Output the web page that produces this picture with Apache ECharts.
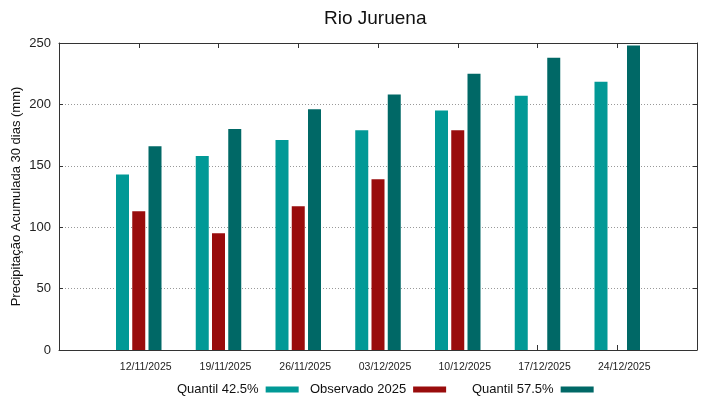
<!DOCTYPE html>
<html>
<head>
<meta charset="utf-8">
<script src="https://cdn.jsdelivr.net/npm/echarts@6/dist/echarts.min.js"></script>
<style>
  html, body { margin: 0; padding: 0; background: #fff; }
  #chart-container { width: 719px; height: 399px; }
</style>
</head>
<body>
<div id="chart-container"></div>
<script>
// empty slots at both ends give the gnuplot-like padding
var datas = ['', '12/11/2025', '19/11/2025', '26/11/2025', '03/12/2025', '10/12/2025', '17/12/2025', '24/12/2025', ''];
var quantil425 = [null, 143, 158, 171, 179, 195, 207, 218.5, null];
var observado = [null, 113, 95, 117, 139, 179, null, null, null];
var quantil575 = [null, 166, 180, 196, 208, 225, 238, 248, null];
var yTicks = [0, 50, 100, 150, 200, 250];

var chart = echarts.init(document.getElementById('chart-container'));
var fontName = 'Liberation Sans';
var tickOn = function (i) { return i > 0 && i < datas.length - 1; };

// gnuplot puts the keys at fixed columns, so one legend per key
function legendAt(name, left) {
    return {
        left: left,
        top: 378,
        align: 'right',
        itemWidth: 33,
        itemHeight: 6,
        icon: 'rect',
        textStyle: { fontSize: 13, color: '#111', fontFamily: fontName, padding: [0, 2, 0, 0] },
        data: [name]
    };
}

var option = {
    animation: false,
    textStyle: { fontFamily: fontName },
    title: {
        text: 'Rio Juruena',
        left: 319,
        top: 4,
        textStyle: { fontSize: 19, fontWeight: 'normal', color: '#111', fontFamily: fontName }
    },
    legend: [
        legendAt('Quantil 42.5%', 172),
        legendAt('Observado 2025', 305),
        legendAt('Quantil 57.5%', 467)
    ],
    grid: { left: 59, right: 22, top: 43, bottom: 49, outerBoundsMode: 'none' },
    xAxis: [
        {
            type: 'category',
            data: datas,
            boundaryGap: false,
            axisLine: { onZero: false, lineStyle: { color: '#333', width: 1 } },
            axisTick: { inside: true, length: 5, interval: tickOn, lineStyle: { color: '#333' } },
            axisLabel: { fontSize: 10.5, color: '#222', margin: 12, interval: 0, padding: [0, 0, 0, 14] },
            splitLine: { show: false }
        },
        {
            type: 'category',
            position: 'top',
            data: datas,
            boundaryGap: false,
            axisLine: { onZero: false, lineStyle: { color: '#333', width: 1 } },
            axisTick: { inside: true, length: 5, interval: tickOn, lineStyle: { color: '#333' } },
            axisLabel: { show: false },
            splitLine: { show: false }
        }
    ],
    yAxis: [
        {
            type: 'value',
            min: 0,
            max: 250,
            interval: 50,
            name: 'Precipitação Acumulada 30 dias (mm)',
            nameLocation: 'middle',
            nameGap: 36,
            nameMoveOverlap: false,
            nameTextStyle: { fontSize: 13, color: '#111', fontFamily: fontName },
            axisLine: { show: true, onZero: false, lineStyle: { color: '#333', width: 1 } },
            axisTick: { show: true, inside: true, length: 4, lineStyle: { color: '#333' } },
            axisLabel: { fontSize: 13, color: '#222', margin: 8 },
            splitLine: { show: true, lineStyle: { color: '#999', type: [1, 2], width: 1 } }
        },
        {
            type: 'value',
            position: 'right',
            min: 0,
            max: 250,
            interval: 50,
            axisLine: { show: true, onZero: false, lineStyle: { color: '#333', width: 1 } },
            axisTick: { show: true, inside: true, length: 4, lineStyle: { color: '#333' } },
            axisLabel: { show: false },
            splitLine: { show: false }
        }
    ],
    series: [
        {
            name: 'Quantil 42.5%',
            type: 'bar',
            barWidth: 13,
            barGap: '25%',
            itemStyle: { color: '#019996' },
            data: quantil425
        },
        {
            name: 'Observado 2025',
            type: 'bar',
            barWidth: 13,
            barGap: '25%',
            itemStyle: { color: '#990c0c' },
            data: observado
        },
        {
            name: 'Quantil 57.5%',
            type: 'bar',
            barWidth: 13,
            barGap: '25%',
            itemStyle: { color: '#006866' },
            data: quantil575
        }
    ]
};
chart.setOption(option);
window.addEventListener('resize', chart.resize);
</script>
</body>
</html>
